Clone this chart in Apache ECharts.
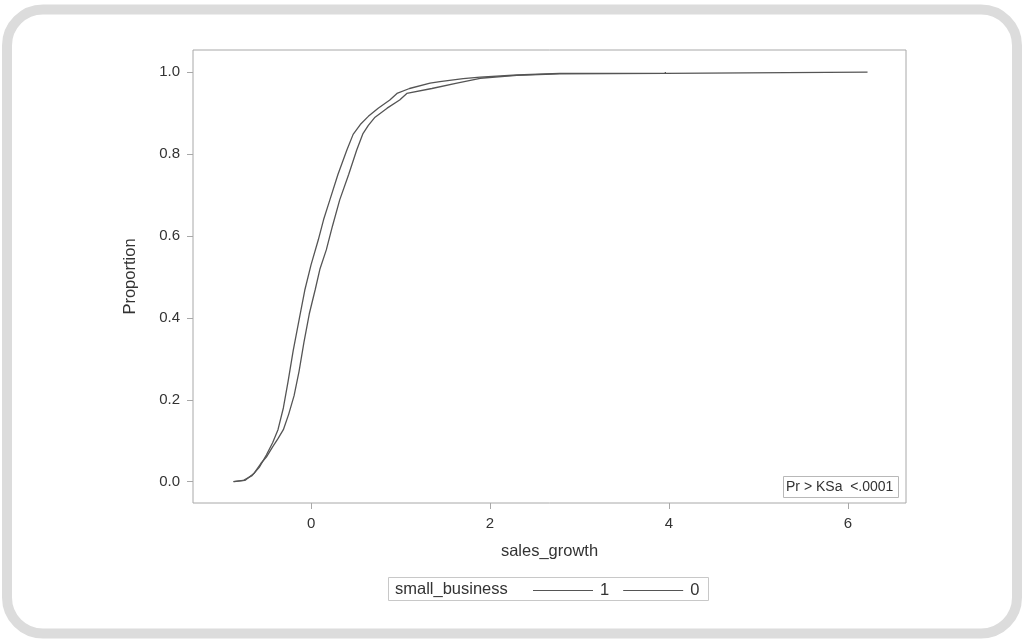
<!DOCTYPE html>
<html>
<head>
<meta charset="utf-8">
<script src="https://cdn.jsdelivr.net/npm/echarts@6/dist/echarts.min.js"></script>
<style>
html,body{margin:0;padding:0;background:#fff;}
#chart{width:1025px;height:640px;}
</style>
</head>
<body>
<div id="chart"></div>
<script>
// ECDF of sales_growth, small_business = 1
const group1X = [-0.87, -0.76, -0.66, -0.58, -0.5, -0.43, -0.37, -0.31, -0.257, -0.2, -0.13, -0.07, 0.0, 0.08, 0.14, 0.21, 0.30, 0.40, 0.47, 0.55, 0.64, 0.75, 0.88, 0.96, 1.1, 1.33, 1.44, 1.7, 1.89, 2.3, 2.78, 3.96, 3.96, 6.22];
const group1Y = [0, 0.003, 0.015, 0.035, 0.065, 0.095, 0.127, 0.18, 0.245, 0.32, 0.40, 0.468, 0.53, 0.59, 0.64, 0.688, 0.75, 0.81, 0.848, 0.872, 0.892, 0.912, 0.932, 0.948, 0.96, 0.973, 0.977, 0.984, 0.988, 0.993, 0.997, 0.997, 1.0, 1.0];
// ECDF of sales_growth, small_business = 0
const group0X = [-0.86, -0.74, -0.64, -0.56, -0.5, -0.43, -0.37, -0.31, -0.25, -0.19, -0.134, -0.08, -0.02, 0.045, 0.10, 0.17, 0.24, 0.32, 0.42, 0.51, 0.58, 0.64, 0.715, 0.85, 0.99, 1.07, 1.35, 1.63, 1.89, 2.3, 2.78, 3.96, 3.96];
const group0Y = [0, 0.003, 0.02, 0.045, 0.06, 0.085, 0.105, 0.127, 0.165, 0.21, 0.27, 0.34, 0.41, 0.468, 0.52, 0.566, 0.625, 0.688, 0.75, 0.81, 0.85, 0.87, 0.89, 0.912, 0.932, 0.948, 0.96, 0.973, 0.985, 0.992, 0.996, 0.997, 1.0];
const xTicks = [0, 2, 4, 6];
const yTicks = [0, 0.2, 0.4, 0.6, 0.8, 1.0];
const seriesNames = ['1', '0'];
const legendTitle = 'small_business';
const statText = 'Pr > KSa  <.0001';

const zip = (xs, ys) => xs.map((x, i) => [x, ys[i]]);
const FONT = '"Liberation Sans", Arial, sans-serif';
const lineColor = '#555555';
const frameColor = '#a8a8a8';

const chart = echarts.init(document.getElementById('chart'), null, {renderer: 'canvas'});
chart.setOption({
  animation: false,
  backgroundColor: '#ffffff',
  grid: {left: 193, right: 119, top: 50, bottom: 137, show: true, borderColor: frameColor, borderWidth: 1, containLabel: false},
  xAxis: {
    type: 'value', min: -1.32, max: 6.65,
    name: 'sales_growth', nameLocation: 'middle', nameGap: 40,
    nameTextStyle: {fontFamily: FONT, fontSize: 16.5, color: '#333'},
    axisLine: {show: false, onZero: false},
    splitLine: {show: false},
    axisTick: {show: true, length: 6, customValues: xTicks, lineStyle: {color: frameColor}},
    axisLabel: {customValues: xTicks, margin: 13, fontFamily: FONT, fontSize: 15, color: '#333', formatter: v => String(v)}
  },
  yAxis: {
    type: 'value', min: -0.052, max: 1.054,
    name: 'Proportion', nameLocation: 'middle', nameGap: 54,
    nameTextStyle: {fontFamily: FONT, fontSize: 16.5, color: '#333'},
    axisLine: {show: false, onZero: false},
    splitLine: {show: false},
    axisTick: {show: true, length: 6, customValues: yTicks, lineStyle: {color: frameColor}},
    axisLabel: {customValues: yTicks, margin: 13, fontFamily: FONT, fontSize: 15, color: '#333', formatter: v => v.toFixed(1)}
  },
  legend: {
    data: seriesNames.map(n => ({name: n, icon: 'rect'})),
    left: 528, top: 577,
    itemWidth: 60, itemHeight: 1, itemGap: 14,
    textStyle: {fontFamily: FONT, fontSize: 16.5, color: '#333', padding: [0, 0, 0, 2]},
    selectedMode: false
  },
  series: [
    {name: seriesNames[0], type: 'line', data: zip(group1X, group1Y), symbol: 'none', lineStyle: {color: lineColor, width: 1.3}, itemStyle: {color: lineColor}},
    {name: seriesNames[1], type: 'line', data: zip(group0X, group0Y), symbol: 'none', lineStyle: {color: lineColor, width: 1.3}, itemStyle: {color: lineColor}}
  ],
  graphic: [
    {type: 'rect', shape: {x: 7, y: 9.5, width: 1010, height: 624, r: 36}, style: {fill: 'none', stroke: '#dcdcdc', lineWidth: 10}, silent: true, z: -10},
    {type: 'rect', shape: {x: 388.5, y: 577.5, width: 320, height: 23}, style: {fill: 'none', stroke: '#c8c8c8', lineWidth: 1}, silent: true},
    {type: 'text', x: 395, y: 589, style: {text: legendTitle, font: '16.5px ' + FONT, fill: '#333', verticalAlign: 'middle'}, silent: true},
    {type: 'rect', shape: {x: 783.5, y: 476.5, width: 115, height: 21}, style: {fill: '#fff', stroke: '#b8b8b8', lineWidth: 1}, silent: true, z: 10},
    {type: 'text', x: 786, y: 487, style: {text: statText, font: '14px ' + FONT, fill: '#333', verticalAlign: 'middle'}, silent: true, z: 11}
  ]
});
</script>
</body>
</html>
